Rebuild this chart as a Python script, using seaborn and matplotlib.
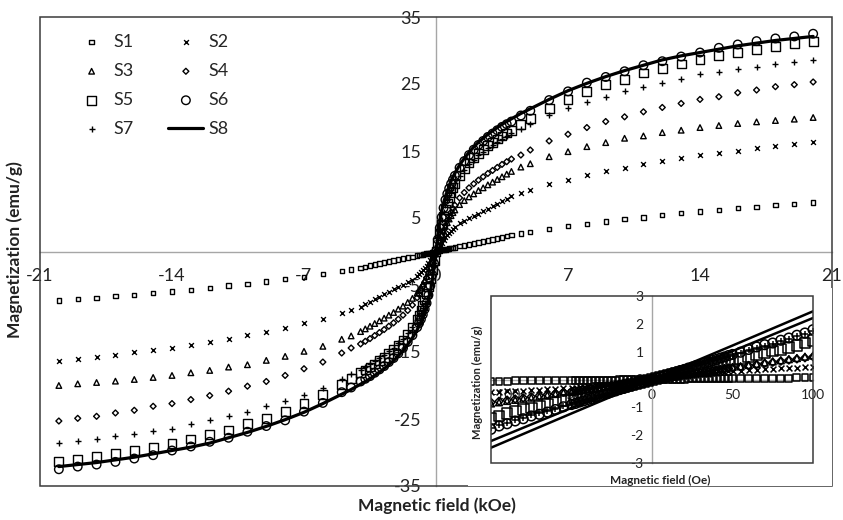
import numpy as np
import pandas as pd
import matplotlib
matplotlib.use("Agg")
import matplotlib.pyplot as plt
from matplotlib.patches import Rectangle
import seaborn as sns

# ---------------------------------------------------------------------------
# Data (positive field half; loops are symmetric)

# main plot, field in kOe
H_POS = [0.1, 0.2, 0.3, 0.4, 0.5, 0.6, 0.7, 0.8, 0.9, 1.0,
         1.25, 1.5, 1.75, 2.0, 2.25, 2.5, 2.75, 3.0, 3.25, 3.5, 3.75, 4.0,
         4.5, 5, 6, 7, 8, 9, 10, 11, 12, 13, 14, 15, 16, 17, 18, 19, 20]

S1 = [0.06, 0.12, 0.18, 0.25, 0.31, 0.37, 0.43, 0.5, 0.55, 0.62,
      0.78, 0.9, 1.05, 1.2, 1.35, 1.5, 1.65, 1.8, 1.95, 2.1, 2.3, 2.45,
      2.7, 2.9, 3.4, 3.8, 4.1, 4.45, 4.85, 5.05, 5.45, 5.75, 5.95, 6.15, 6.45, 6.65, 6.95, 7.1, 7.3]
S2 = [0.45, 0.9, 1.3, 1.7, 2.1, 2.5, 2.8, 3.1, 3.4, 3.65,
      4.2, 4.6, 5.0, 5.35, 5.65, 6.0, 6.35, 6.75, 7.1, 7.5, 7.9, 8.3,
      8.7, 9.2, 10.05, 10.7, 11.4, 11.95, 12.5, 13.0, 13.5, 13.95, 14.4, 14.65, 15.0, 15.4, 15.7, 16.0, 16.3]
S3 = [0.85, 1.65, 2.4, 3.1, 3.75, 4.3, 4.85, 5.35, 5.8, 6.2,
      7.0, 7.6, 8.15, 8.6, 9.1, 9.5, 9.95, 10.35, 10.75, 11.15, 11.55, 11.95,
      12.6, 13.1, 14.15, 14.9, 15.65, 16.25, 16.9, 17.25, 17.75, 18.1, 18.5, 18.8, 19.1, 19.35, 19.55, 19.75, 20.0]
S4 = [0.8, 1.6, 2.4, 3.15, 3.9, 4.6, 5.25, 5.85, 6.4, 6.9,
      8.0, 8.8, 9.5, 10.1, 10.65, 11.15, 11.65, 12.1, 12.55, 13.0, 13.4, 13.8,
      14.4, 15.15, 16.5, 17.5, 18.5, 19.4, 20.1, 20.85, 21.5, 22.1, 22.7, 23.1, 23.7, 24.1, 24.6, 24.9, 25.3]
S5 = [1.4, 2.75, 4.0, 5.2, 6.3, 7.25, 8.1, 8.85, 9.5, 10.1,
      11.3, 12.3, 13.2, 14.0, 14.65, 15.25, 15.8, 16.3, 16.8, 17.25, 17.7, 18.1,
      19.0, 19.9, 21.4, 22.7, 23.9, 24.9, 25.7, 26.65, 27.3, 28.0, 28.6, 29.2, 29.75, 30.2, 30.6, 31.0, 31.4]
S6 = [1.8, 3.5, 5.1, 6.5, 7.7, 8.6, 9.4, 10.1, 10.7, 11.3,
      12.5, 13.5, 14.4, 15.2, 15.9, 16.5, 17.1, 17.6, 18.1, 18.6, 19.0, 19.4,
      20.3, 21.0, 22.6, 23.9, 25.2, 26.05, 26.9, 27.8, 28.4, 29.1, 29.7, 30.4, 30.9, 31.4, 31.8, 32.1, 32.5]
S7 = [1.7, 3.3, 4.7, 5.9, 6.9, 7.75, 8.5, 9.15, 9.7, 10.2,
      11.3, 12.2, 13.0, 13.7, 14.35, 14.9, 15.45, 15.95, 16.4, 16.85, 17.3, 17.7,
      18.3, 19.0, 20.4, 21.4, 22.35, 23.1, 23.9, 24.55, 25.15, 25.75, 26.45, 26.8, 27.2, 27.55, 28.0, 28.3, 28.6]
S8 = [2.3, 4.4, 6.0, 7.2, 8.2, 9.0, 9.8, 10.5, 11.1, 11.7,
      12.9, 13.9, 14.8, 15.6, 16.3, 16.9, 17.5, 18.0, 18.5, 19.0, 19.4, 19.8,
      20.6, 21.3, 22.7, 24.0, 25.1, 26.1, 27.0, 27.8, 28.6, 29.2, 29.7, 30.2, 30.7, 31.1, 31.5, 31.8, 32.1]

# inset, field in Oe
HI_POS = [2.5, 5, 7.5, 10, 12.5, 15, 17.5, 20, 22.5, 25, 27.5, 30, 32.5, 35, 37.5, 40, 42.5, 45, 47.5, 50,
          55, 60, 65, 70, 75, 80, 85, 90, 95, 100]
I1 = [0.0, 0.0, 0.01, 0.01, 0.01, 0.01, 0.01, 0.01, 0.02, 0.02, 0.02, 0.02, 0.02, 0.02, 0.03, 0.03, 0.03, 0.03, 0.03, 0.03,
      0.04, 0.04, 0.04, 0.05, 0.05, 0.05, 0.05, 0.06, 0.06, 0.06]
I2 = [0.02, 0.03, 0.05, 0.06, 0.08, 0.09, 0.11, 0.12, 0.14, 0.15, 0.17, 0.18, 0.2, 0.21, 0.23, 0.24, 0.26, 0.27, 0.29, 0.3,
      0.32, 0.34, 0.35, 0.37, 0.38, 0.4, 0.41, 0.42, 0.44, 0.45]
I3 = [0.02, 0.05, 0.07, 0.09, 0.11, 0.14, 0.16, 0.18, 0.2, 0.23, 0.25, 0.27, 0.29, 0.32, 0.34, 0.36, 0.38, 0.41, 0.43, 0.45,
      0.47, 0.52, 0.56, 0.61, 0.65, 0.69, 0.73, 0.77, 0.82, 0.86]
I4 = [0.02, 0.04, 0.06, 0.08, 0.11, 0.13, 0.15, 0.17, 0.19, 0.21, 0.23, 0.25, 0.27, 0.29, 0.32, 0.34, 0.36, 0.38, 0.4, 0.42,
      0.45, 0.5, 0.54, 0.58, 0.62, 0.66, 0.7, 0.74, 0.78, 0.82]
I5 = [0.04, 0.07, 0.11, 0.14, 0.18, 0.22, 0.25, 0.29, 0.32, 0.36, 0.4, 0.43, 0.47, 0.5, 0.54, 0.58, 0.61, 0.65, 0.68, 0.72,
      0.76, 0.83, 0.89, 0.96, 1.02, 1.09, 1.16, 1.23, 1.31, 1.4]
I6 = [0.05, 0.09, 0.14, 0.18, 0.23, 0.27, 0.32, 0.36, 0.41, 0.45, 0.5, 0.54, 0.59, 0.63, 0.68, 0.72, 0.77, 0.81, 0.86, 0.9,
      0.98, 1.08, 1.17, 1.25, 1.31, 1.41, 1.49, 1.59, 1.67, 1.79]
I7 = [0.04, 0.09, 0.13, 0.17, 0.22, 0.26, 0.3, 0.34, 0.39, 0.43, 0.47, 0.52, 0.56, 0.6, 0.65, 0.69, 0.73, 0.77, 0.82, 0.86,
      0.95, 1.05, 1.14, 1.22, 1.29, 1.38, 1.46, 1.55, 1.64, 1.75]
# inset S8 shows two nearly straight branches
HI_LINE = [-100, -50, 0, 50, 100]
I8_A = [-2.45, -1.22, 0, 1.22, 2.45]
I8_B = [-2.21, -1.02, 0, 1.02, 2.21]

X_TICKS = [-21, -14, -7, 0, 7, 14, 21]
Y_TICKS = [-35, -25, -15, -5, 5, 15, 25, 35]
XI_TICKS = [-100, -50, 0, 50, 100]
YI_TICKS = [-3, -2, -1, 0, 1, 2, 3]

NAMES = ['S1', 'S2', 'S3', 'S4', 'S5', 'S6', 'S7']


def mirror(vals):
    # full loop from the positive half (odd symmetry)
    v = np.array(vals, dtype=float)
    return np.concatenate([-v[::-1], [0.0], v])


main_df = pd.DataFrame({'H': mirror(H_POS)})
for n, v in zip(NAMES + ['S8'], [S1, S2, S3, S4, S5, S6, S7, S8]):
    main_df[n] = mirror(v)

inset_df = pd.DataFrame({'H': mirror(HI_POS)})
for n, v in zip(NAMES, [I1, I2, I3, I4, I5, I6, I7]):
    inset_df[n] = mirror(v)

# marker style per series: (marker, size in main, size in inset, filled-type?)
STYLE = {
    'S1': ('s', 10, 24, True),
    'S2': ('x', 12, 18, False),
    'S3': ('^', 16, 24, True),
    'S4': ('D', 9, 16, True),
    'S5': ('s', 40, 60, True),
    'S6': ('o', 38, 48, True),
    'S7': ('+', 18, 22, False),
}

# ---------------------------------------------------------------------------
sns.set_style("white")
plt.rcParams['font.family'] = ['Lato', 'DejaVu Sans']
plt.rcParams['axes.unicode_minus'] = False

AXIS_GREY = '#a6a6a6'
FRAME = '#3a3a3a'


def draw_markers(ax, df, size_idx, lw):
    for n in NAMES:
        m, s_main, s_in, filled = STYLE[n]
        s = s_main if size_idx == 0 else s_in
        if filled:
            sns.scatterplot(data=df, x='H', y=n, marker=m, s=s, facecolor='none',
                            edgecolor='black', linewidth=lw, ax=ax, label=n, zorder=3)
        else:
            sns.scatterplot(data=df, x='H', y=n, marker=m, s=s, color='black',
                            linewidth=lw, ax=ax, label=n, zorder=3)


def style_axes(ax, xticks, yticks, xpad, ypad, lab_size, xlen, ylen):
    for side in ['top', 'right']:
        ax.spines[side].set_visible(False)
    for side in ['left', 'bottom']:
        ax.spines[side].set_position(('data', 0))
        ax.spines[side].set_color(AXIS_GREY)
        ax.spines[side].set_linewidth(1)
    ax.set_xticks(xticks)
    ax.set_yticks(yticks)
    ax.tick_params(axis='x', direction='in', length=xlen, width=1, color=AXIS_GREY,
                   pad=xpad, labelsize=lab_size, labelcolor='#222222')
    ax.tick_params(axis='y', direction='out', length=ylen, width=1, color=AXIS_GREY,
                   pad=ypad, labelsize=lab_size, labelcolor='#222222')
    ax.set_xlabel('')
    ax.set_ylabel('')
    ax.set_axisbelow(True)
    ax.add_patch(Rectangle((0, 0), 1, 1, transform=ax.transAxes, fill=False,
                           edgecolor=FRAME, lw=1.1, clip_on=False, zorder=10))


fig = plt.figure(figsize=(8.43, 5.2), dpi=100)
W, Hp = 843, 520

# main plot
ax = fig.add_axes([40 / W, 1 - 486 / Hp, 792 / W, 469 / Hp])
draw_markers(ax, main_df, 0, 1.0)
sns.lineplot(data=main_df, x='H', y='S8', color='black', lw=2.3, ax=ax, label='S8', zorder=4)
ax.set_xlim(-21, 21)
ax.set_ylim(-35, 35)
style_axes(ax, X_TICKS, Y_TICKS, xpad=12, ypad=6, lab_size=13, xlen=5, ylen=4.5)

handles, labels = ax.get_legend_handles_labels()
order = [0, 2, 4, 6, 1, 3, 5, 7]
ax.legend([handles[i] for i in order], [labels[i] for i in order], ncol=2,
          loc='upper left', bbox_to_anchor=(34 / 792, 1 - 17 / 469), frameon=False,
          borderpad=0, borderaxespad=0, handlelength=1.95, handletextpad=0.25,
          columnspacing=1.9, labelspacing=0.72, fontsize=13)

fig.text(437 / W, 1 - 506 / Hp, 'Magnetic field (kOe)', ha='center', va='center',
         fontsize=12.5, fontweight='bold', color='#222222')
fig.text(15 / W, 1 - 250 / Hp, 'Magnetization (emu/g)', ha='center', va='center',
         rotation=90, fontsize=12.5, fontweight='bold', color='#222222')

# white chart area behind the inset
fig.add_artist(Rectangle((468 / W, 1 - 485.5 / Hp), 363.5 / W, 198 / Hp,
                         transform=fig.transFigure, facecolor='white',
                         edgecolor='none', zorder=1))

# inset
axi = fig.add_axes([491 / W, 1 - 463 / Hp, 322 / W, 167 / Hp], zorder=3)
axi.set_facecolor('white')
draw_markers(axi, inset_df, 1, 1.1)
sns.lineplot(x=HI_LINE, y=I8_A, color='black', lw=1.8, ax=axi, zorder=4)
sns.lineplot(x=HI_LINE, y=I8_B, color='black', lw=1.8, ax=axi, zorder=4)
axi.set_xlim(-100, 100)
axi.set_ylim(-3, 3)
style_axes(axi, XI_TICKS, YI_TICKS, xpad=7, ypad=3, lab_size=10, xlen=3, ylen=3)
if axi.get_legend() is not None:
    axi.get_legend().remove()
# first inset tick label starts at the frame edge so it clears the y title
axi.get_xticklabels()[0].set_horizontalalignment('left')

fig.text(660 / W, 1 - 480 / Hp, 'Magnetic field (Oe)', ha='center', va='center',
         fontsize=8.5, fontweight='bold', color='#222222', zorder=5)
fig.text(477 / W, 1 - 382 / Hp, 'Magnetization (emu/g)', ha='center', va='center',
         rotation=90, fontsize=8, fontweight='bold', color='#222222', zorder=5)

fig.savefig('out.png', dpi=100)
